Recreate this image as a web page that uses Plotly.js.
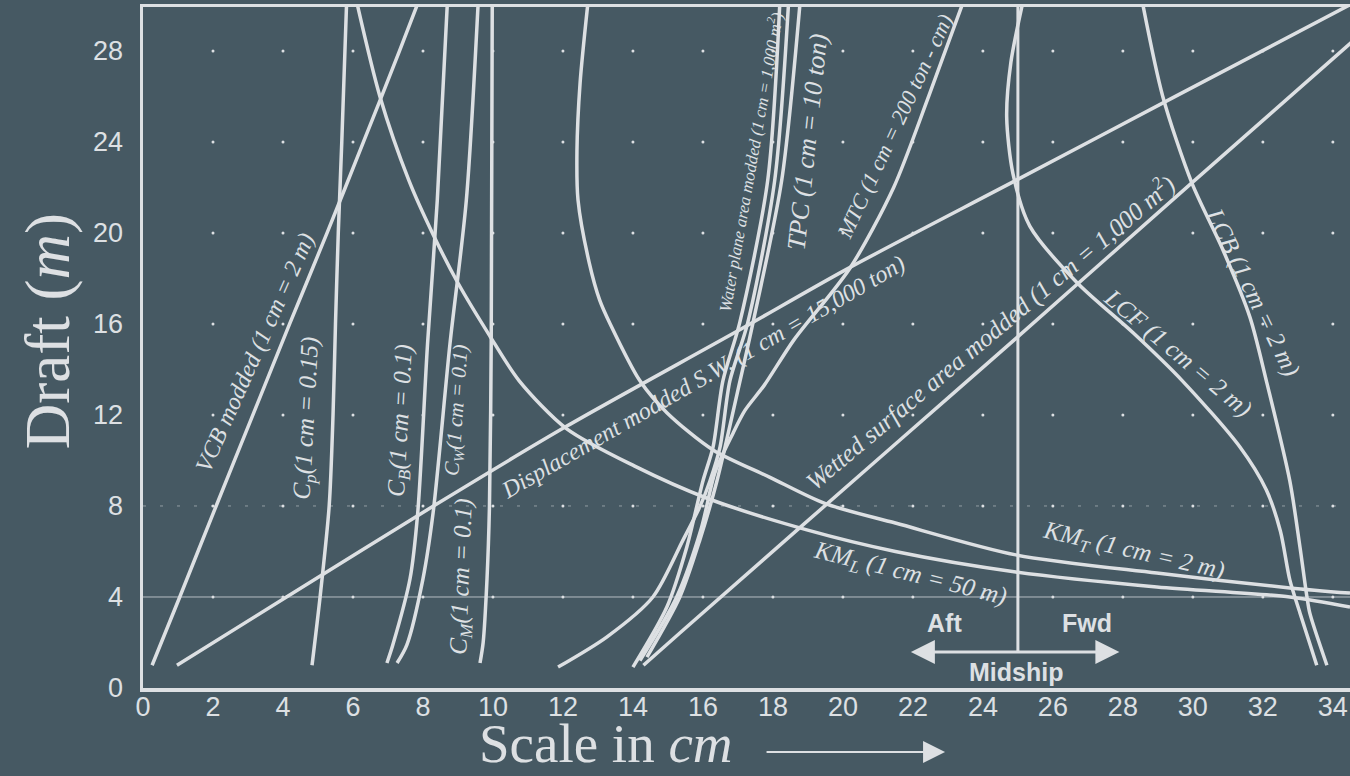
<!DOCTYPE html>
<html>
<head>
<meta charset="utf-8">
<script src="https://cdn.plot.ly/plotly-3.0.1.min.js"></script>
<style>
  html, body { margin: 0; padding: 0; background: #465963; }
  #chart { width: 1350px; height: 776px; }
</style>
</head>
<body>
<div id="chart"></div>
<script>
// ---------------- DATA ----------------
const xTicks = [0, 2, 4, 6, 8, 10, 12, 14, 16, 18, 20, 22, 24, 26, 28, 30, 32, 34];
const yTicks = [0, 4, 8, 12, 16, 20, 24, 28];

// VCB modded (1 cm = 2 m)
const draftVCB = [1, 4, 8, 12, 16, 20, 24, 28, 30.2];
const vcb      = [0.26, 1.05, 2.09, 3.14, 4.19, 5.26, 6.3, 7.33, 7.88];

// Displacement modded S.W. (1 cm = 15,000 ton)
const draftDisp = [1, 4, 8, 11.5, 15.7, 18.4, 22.33, 26, 30.2];
const disp      = [0.97, 4.1, 8.3, 12.1, 17.0, 20.1, 24.97, 29.5, 34.7];

// Wetted surface area modded (1 cm = 1,000 m2)
const draftWet = [1, 2.42, 10.9, 15.4, 22.2, 28.4];
const wetted   = [14.3, 15.34, 21.63, 24.97, 29.97, 34.55];

// KM_L (1 cm = 50 m)
const draftKML = [30.2, 26.0, 22.3, 19.9, 17.8, 15.5, 13.5, 11.4, 9.75, 8.35, 6.95, 6.0, 5.1, 4.44, 4.0, 3.56];
const kmL      = [6.1, 6.77, 7.6, 8.3, 9.0, 9.9, 10.75, 12.1, 14.05, 16.1, 18.97, 21.5, 24.94, 28.97, 32.77, 34.49];

// KM_T (1 cm = 2 m)
const draftKMT = [30.2, 26.6, 23.6, 21.45, 18.7, 17.05, 16.0, 13.5, 12.1, 10.46, 9.27, 8.1, 7.25, 5.85, 5.05, 4.4, 4.17];
const kmT      = [12.72, 12.49, 12.4, 12.43, 12.75, 13.05, 13.35, 14.2, 14.97, 16.29, 17.9, 19.5, 21.5, 24.94, 28.97, 32.77, 34.49];

// Cp (1 cm = 0.15)
const draftCp = [1, 4, 8, 12, 16, 20, 24, 30.2];
const cp      = [4.83, 5.06, 5.32, 5.43, 5.5, 5.58, 5.68, 5.82];

// CB (1 cm = 0.1)
const draftCB = [1.1, 1.9, 4.8, 7.7, 15.1, 21.45, 30.2];
const cb      = [6.97, 7.14, 7.63, 7.85, 8.13, 8.41, 8.7];

// CW (1 cm = 0.1)
const draftCW = [1.1, 1.9, 4.8, 7.7, 15.1, 21.45, 30.2];
const cw      = [7.26, 7.54, 8.0, 8.29, 8.77, 9.24, 9.58];

// CM (1 cm = 0.1)
const draftCM = [1.1, 2, 4.8, 8, 15.1, 30.2];
const cm      = [9.63, 9.72, 9.83, 9.9, 9.95, 9.98];

// Water plane area modded (1 cm = 1,000 m2)
const draftWPA = [0.92, 3.56, 6.2, 9.1, 10.6, 13.5, 16.05, 22.3, 30.2];
const wpa      = [14.0, 14.97, 15.54, 16.0, 16.29, 16.57, 17.05, 17.85, 18.2];

// unlabelled curve of the same group
const draftGrp = [0.92, 2.25, 4.0, 6.5, 7.96, 9.1, 10.6, 13.5, 16.05, 22.3, 30.2];
const grp      = [11.86, 13.26, 14.57, 15.43, 15.91, 16.2, 16.49, 16.77, 17.28, 18.05, 18.45];

// TPC (1 cm = 10 ton)
const draftTPC = [1.36, 4.0, 6.5, 9.1, 13.5, 16.05, 22.3, 30.2];
const tpc      = [14.4, 15.34, 15.91, 16.4, 17.06, 17.43, 18.25, 18.78];

// MTC (1 cm = 200 ton-m/cm)
const draftMTC = [1.2, 4, 7, 9.5, 11.2, 12.2, 13.3, 15.3, 18.45, 22.0, 26, 30.2];
const mtc      = [14.2, 15.25, 15.95, 16.35, 16.86, 17.2, 17.75, 18.6, 20.2, 21.45, 22.45, 23.45];

// LCF (1 cm = 2 m)
const draftLCF = [30.2, 27.5, 25.1, 22.6, 20.3, 17.8, 15.6, 13.5, 10.6, 8.7, 6.9, 4.75, 3.3, 1.0];
const lcf      = [25.15, 24.8, 24.68, 24.86, 25.34, 26.7, 28.3, 29.7, 31.34, 32.1, 32.5, 32.77, 33.06, 33.54];

// LCB (1 cm = 2 m)
const draftLCB = [30.2, 26.0, 22.2, 19.25, 16.3, 13.5, 9.1, 6.2, 4.0, 3.3, 1.0];
const lcb      = [28.55, 29.14, 29.97, 30.86, 31.63, 32.1, 32.77, 33.06, 33.26, 33.34, 33.83];

// Midship reference
const midshipX = 25;
const draftMid = [1.58, 30.2];
const arrowDraft = 1.58;
const aftEnd = 21.9, fwdEnd = 27.9;
const refLine4 = 4, refLine8 = 8;

// ---------------- STYLE ----------------
const BG = '#465963';
const FG = '#dde0e3';
const LW = 3.5;
const serif = 'Liberation Serif, Times New Roman, serif';
const sans = 'Liberation Sans, Arial, sans-serif';

function curve(name, xs, ys) {
  return { type: 'scatter', mode: 'lines', name: name, x: xs, y: ys,
           line: { color: FG, width: LW, shape: 'spline', smoothing: 0.8 },
           hoverinfo: 'name', showlegend: false };
}

// grid dots from tick arrays
const gx = [], gy = [];
xTicks.forEach(function (xt) { if (xt > 0) yTicks.forEach(function (yt) { if (yt > 0) { gx.push(xt); gy.push(yt); } }); });

const traces = [
  { type: 'scatter', mode: 'markers', x: gx, y: gy, marker: { color: FG, size: 3 }, hoverinfo: 'skip', showlegend: false },
  curve('VCB', vcb, draftVCB),
  curve('Displacement', disp, draftDisp),
  curve('Wetted surface', wetted, draftWet),
  curve('KM_L', kmL, draftKML),
  curve('KM_T', kmT, draftKMT),
  curve('Cp', cp, draftCp),
  curve('CB', cb, draftCB),
  curve('CW', cw, draftCW),
  curve('CM', cm, draftCM),
  curve('Water plane area', wpa, draftWPA),
  curve('Group curve', grp, draftGrp),
  curve('TPC', tpc, draftTPC),
  curve('MTC', mtc, draftMTC),
  curve('LCF', lcf, draftLCF),
  curve('LCB', lcb, draftLCB),
  { type: 'scatter', mode: 'lines', x: [midshipX, midshipX], y: draftMid,
    line: { color: FG, width: 3 }, hoverinfo: 'skip', showlegend: false }
];

function lab(text, x, y, ang, size) {
  return { text: text, x: x, y: y, xref: 'x', yref: 'y', showarrow: false, textangle: ang,
           xanchor: 'center', yanchor: 'middle', font: { family: serif, size: size, color: FG } };
}

const annotations = [
  lab('<i>VCB modded (1 cm = 2 m)</i>', 3.2, 14.77, -66, 24),
  lab('<i>C<sub>p</sub>(1 cm = 0.15)</i>', 4.71, 11.87, -87, 25),
  lab('<i>C<sub>B</sub>(1 cm = 0.1)</i>', 7.4, 11.78, -87, 25),
  lab('<i>C<sub>W</sub>(1 cm = 0.1)</i>', 8.97, 12.22, -86, 21),
  lab('<i>C<sub>M</sub>(1 cm = 0.1)</i>', 9.14, 4.88, -88, 25),
  lab('<i>Displacement modded S.W. (1 cm = 15,000 ton)</i>', 15.99, 13.69, -30, 24),
  lab('<i>Water plane area modded (1 cm = 1,000 m<sup>2</sup>)</i>', 17.34, 23.12, -80, 17),
  lab('<i>TPC (1 cm = 10 ton)</i>', 19.0, 24.0, -84, 26),
  lab('<i>MTC (1 cm = 200 ton - cm)</i>', 21.49, 24.66, -65, 22),
  lab('<i>Wetted surface area modded (1 cm = 1,000 m<sup>2</sup>)</i>', 24.2, 15.67, -40, 25),
  lab('<i>LCF (1 cm = 2 m)</i>', 29.57, 14.73, 40, 25),
  lab('<i>LCB (1 cm = 2 m)</i>', 31.71, 17.41, 64, 25),
  lab('<i>KM<sub>T</sub> (1 cm = 2 m)</i>', 28.29, 6.02, 13, 25),
  lab('<i>KM<sub>L</sub> (1 cm = 50 m)</i>', 21.91, 4.97, 14, 25),
  { text: '<b>Aft</b>', x: 22.91, y: 2.86, xref: 'x', yref: 'y', showarrow: false,
    font: { family: sans, size: 25, color: FG } },
  { text: '<b>Fwd</b>', x: 26.97, y: 2.86, xref: 'x', yref: 'y', showarrow: false,
    font: { family: sans, size: 25, color: FG } },
  { text: '<b>Midship</b>', x: 24.94, y: 0.7, xref: 'x', yref: 'y', showarrow: false,
    font: { family: sans, size: 25, color: FG } },
  { text: '', x: fwdEnd, y: arrowDraft, ax: aftEnd, ay: arrowDraft, xref: 'x', yref: 'y', axref: 'x', ayref: 'y',
    showarrow: true, arrowhead: 2, startarrowhead: 2, arrowside: 'end+start', arrowsize: 1.6, startarrowsize: 1.6,
    arrowwidth: 3, arrowcolor: FG },
  // axis titles
  { text: 'Scale in <i>cm</i>', xref: 'paper', yref: 'paper', x: 0.3836, y: -0.1292, showarrow: false,
    xanchor: 'center', yanchor: 'bottom', font: { family: serif, size: 55, color: FG } },
  { text: '', xref: 'paper', yref: 'paper', x: 0.6645, y: -0.094, ax: -180, ay: 0, showarrow: true,
    arrowhead: 2, arrowsize: 2, arrowwidth: 2.2, arrowcolor: FG },
  { text: 'Draft (<i>m</i>)', xref: 'paper', yref: 'paper', x: -0.0787, y: 0.524, showarrow: false,
    textangle: -90, xanchor: 'center', yanchor: 'middle', font: { family: serif, size: 63, color: FG } }
];

const layout = {
  width: 1350, height: 776, autosize: false,
  paper_bgcolor: BG, plot_bgcolor: BG,
  margin: { l: 143, r: 0, t: 7, b: 88, pad: 0 },
  showlegend: false,
  xaxis: {
    range: [0, 34.49], tickvals: xTicks, ticktext: xTicks.map(String),
    showgrid: false, zeroline: false, showline: true, mirror: true, linecolor: FG, linewidth: 3.5,
    ticks: '', ticklabelstandoff: -8,
    tickfont: { family: sans, size: 27, color: FG }
  },
  yaxis: {
    range: [0, 29.93], tickvals: yTicks, ticktext: yTicks.map(String),
    showgrid: false, zeroline: false, showline: true, mirror: false, linecolor: FG, linewidth: 3.5,
    ticks: 'outside', ticklen: 11, tickcolor: 'rgba(0,0,0,0)',
    tickfont: { family: sans, size: 27, color: FG }
  },
  shapes: [
    { type: 'line', xref: 'paper', x0: 0, x1: 1, yref: 'y', y0: refLine4, y1: refLine4,
      line: { color: FG, width: 1 }, opacity: 0.75, layer: 'below' },
    { type: 'line', xref: 'paper', x0: 0, x1: 1, yref: 'y', y0: refLine8, y1: refLine8,
      line: { color: FG, width: 1, dash: '3px,14px' }, opacity: 0.5, layer: 'below' }
  ],
  annotations: annotations
};

Plotly.newPlot('chart', traces, layout, { displayModeBar: false, staticPlot: true });
</script>
</body>
</html>
